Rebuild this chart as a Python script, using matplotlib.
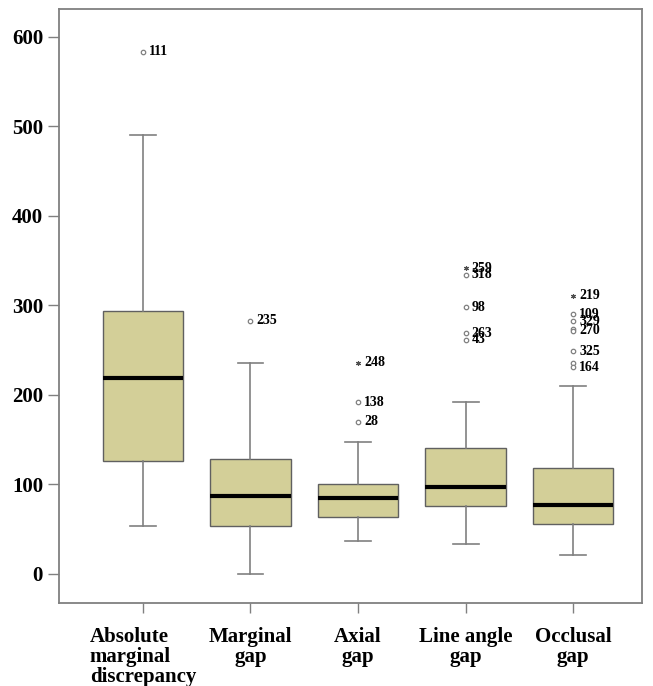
import numpy as np
import matplotlib
matplotlib.use('Agg')
import matplotlib.pyplot as plt

# box statistics
categories = ['Absolute\nmarginal\ndiscrepancy', 'Marginal\ngap', 'Axial\ngap',
              'Line angle\ngap', 'Occlusal\ngap']
whis_lo = [54, 0, 37, 33.5, 21]
q1 = [126, 54, 64, 76, 56]
median = [219, 87.5, 85, 97.5, 76.7]
q3 = [294, 128.5, 101, 140.4, 118.8]
whis_hi = [490, 236, 147.5, 192, 210]

# outliers: group index, value, case label, kind ('o' outlier, '*' extreme)
out_group = [0, 1, 2, 2, 2, 3, 3, 3, 3, 3, 4, 4, 4, 4, 4, 4, 4, 4]
out_value = [583, 283, 236, 192, 170, 341.5, 334, 298, 269, 261.5,
             311, 290, 282, 274, 271.5, 249, 235.5, 231]
out_label = ['111', '235', '248', '138', '28', '259', '318', '98', '263', '43',
             '219', '109', '329', '', '270', '325', '', '164']
out_kind = ['o', 'o', '*', 'o', 'o', '*', 'o', 'o', 'o', 'o',
            '*', 'o', 'o', 'o', 'o', 'o', 'o', 'o']

yticks = [0, 100, 200, 300, 400, 500, 600]

plt.rcParams['font.family'] = 'Liberation Serif'
plt.rcParams['font.weight'] = 'bold'

fig = plt.figure(figsize=(6.53, 6.86), dpi=100)
ax = fig.add_axes([59/653, 83/686, 583/653, 594/686])

pos = np.arange(1, len(categories) + 1)
stats = []
for i in range(len(categories)):
    stats.append(dict(whislo=whis_lo[i], q1=q1[i], med=median[i], q3=q3[i],
                      whishi=whis_hi[i]))

grey = '#808080'
ax.bxp(stats, positions=pos, widths=0.75, showfliers=False, patch_artist=True,
       boxprops=dict(facecolor='#d3cf98', edgecolor='#606060', linewidth=1.0),
       medianprops=dict(color='black', linewidth=3.0),
       whiskerprops=dict(color=grey, linewidth=1.2),
       capprops=dict(color=grey, linewidth=1.2),
       capwidths=0.24)

for g, v, lab, k in zip(out_group, out_value, out_label, out_kind):
    x = pos[g]
    if k == 'o':
        ax.plot(x, v, 'o', ms=3.2, mfc='white', mec=grey, mew=0.9)
    else:
        ax.plot(x, v, marker=(6, 2, 0), ms=3.5, color='#505050', mew=0.8)
    if lab:
        ax.annotate(lab, (x, v), xytext=(4.3, 0), textcoords='offset points',
                    ha='left', va='center', fontsize=10, fontweight='bold')

ax.set_xlim(0.22, 5.64)
ax.set_ylim(-32.4, 631)
ax.set_yticks(yticks)
ax.set_xticks(pos)
ax.set_xticklabels(categories, fontsize=15, linespacing=1.0)
labs = ax.get_xticklabels()
labs[0].set_multialignment('left')
for t in labs[1:]:
    t.set_multialignment('center')
ax.tick_params(axis='y', labelsize=15, length=8, width=1, color=grey, pad=3.5)
ax.tick_params(axis='x', length=7, width=1, color=grey, pad=10)

for s in ax.spines.values():
    s.set_color(grey)
    s.set_linewidth(1.3)

fig.savefig('out.png', dpi=100)
